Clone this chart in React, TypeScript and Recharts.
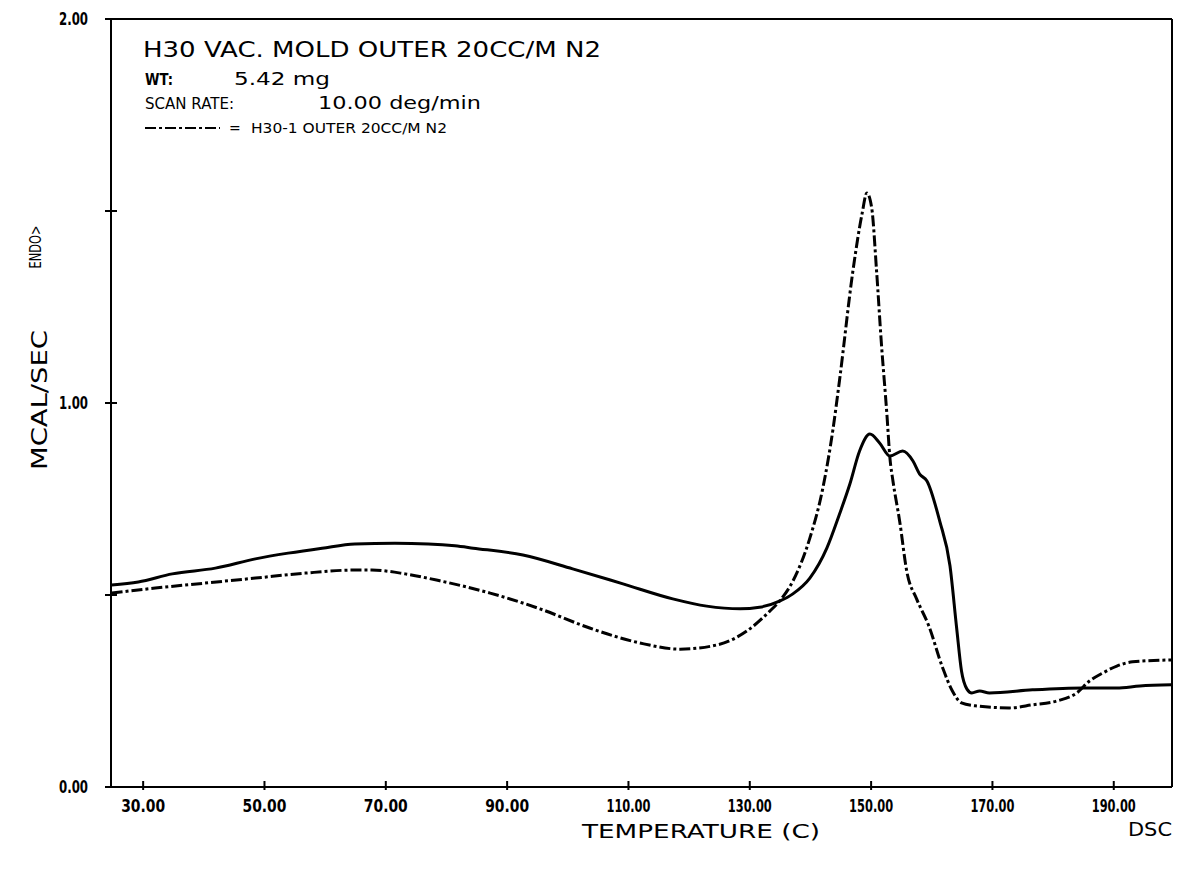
import React from 'react';
import { LineChart, Line, XAxis, YAxis, ReferenceLine } from 'recharts';

// solid trace (unlabelled run)
const solidTemp = [24.8, 29.2, 34.8, 41.9, 48.5, 53.9, 59.5, 64.9, 71.5, 77.0, 81.4, 84.4, 92.6, 100.8, 109.1, 117.3, 122.9, 128.4, 131.6, 134.9, 137.1, 139.9, 142.7, 144.8, 146.5, 148.1, 149.8, 151.4, 153.1, 155.2, 156.9, 158.0, 159.2, 161.3, 163.0, 164.1, 164.9, 165.8, 166.6, 167.9, 169.5, 176.6, 184.9, 190.5, 194.3, 199.5];
const solidMcal = [0.526, 0.534, 0.555, 0.570, 0.594, 0.609, 0.622, 0.633, 0.635, 0.633, 0.628, 0.622, 0.604, 0.568, 0.529, 0.490, 0.471, 0.464, 0.468, 0.484, 0.503, 0.544, 0.622, 0.711, 0.789, 0.875, 0.919, 0.896, 0.862, 0.875, 0.849, 0.815, 0.797, 0.693, 0.576, 0.414, 0.302, 0.255, 0.245, 0.250, 0.245, 0.253, 0.258, 0.258, 0.263, 0.266];

// dash-dot trace: H30-1 OUTER 20CC/M N2
const dashTemp = [24.8, 32.0, 40.2, 48.5, 56.7, 64.9, 67.7, 73.2, 78.9, 87.2, 95.4, 103.6, 111.9, 118.5, 124.6, 129.5, 133.3, 134.9, 137.1, 139.9, 142.0, 143.7, 144.8, 147.0, 148.5, 149.3, 150.1, 150.9, 151.7, 152.6, 153.1, 153.6, 154.7, 155.9, 157.5, 159.5, 161.8, 163.4, 164.9, 167.4, 172.8, 176.6, 180.6, 183.9, 186.0, 188.2, 190.5, 193.1, 199.5];
const dashMcal = [0.505, 0.518, 0.531, 0.544, 0.557, 0.565, 0.565, 0.555, 0.537, 0.505, 0.464, 0.414, 0.375, 0.359, 0.370, 0.406, 0.458, 0.484, 0.536, 0.648, 0.775, 0.930, 1.060, 1.344, 1.492, 1.547, 1.508, 1.344, 1.154, 0.971, 0.857, 0.797, 0.693, 0.560, 0.490, 0.420, 0.310, 0.250, 0.219, 0.211, 0.206, 0.214, 0.224, 0.245, 0.276, 0.297, 0.315, 0.326, 0.331];

const xTicks = [30, 50, 70, 90, 110, 130, 150, 170, 190];
const yTicks = [0, 0.5, 1, 1.5, 2];
const yLabelled = [0, 1, 2];

const solidData = solidTemp.map((t, i) => ({ t, v: solidMcal[i] }));
const dashData = dashTemp.map((t, i) => ({ t, v: dashMcal[i] }));

const DASH = '11 3 3 3';
const tickFont = '"DejaVu Sans Condensed", "DejaVu Sans", sans-serif';
const plotFont = '"DejaVu Sans", sans-serif';

const XTick = (props: any) => {
  const { x, y, payload } = props;
  return (
    <g>
      <line x1={x} x2={x} y1={y - 6} y2={y + 3} stroke="#000" strokeWidth={2} />
      <text x={x} y={y + 25} textAnchor="middle" fontFamily={tickFont} fontWeight="bold" fontSize={17} fill="#000" textLength={44} lengthAdjust="spacingAndGlyphs">
        {payload.value.toFixed(2)}
      </text>
    </g>
  );
};

const YTick = (props: any) => {
  const { x, y, payload } = props;
  return (
    <g>
      <line x1={x - 6} x2={x + 6} y1={y} y2={y} stroke="#000" strokeWidth={2} />
      {yLabelled.includes(payload.value) && (
        <text x={x - 23} y={y + 6} textAnchor="end" fontFamily={tickFont} fontWeight="bold" fontSize={17} fill="#000" textLength={29} lengthAdjust="spacingAndGlyphs">
          {payload.value.toFixed(2)}
        </text>
      )}
    </g>
  );
};

export default function App() {
  return (
    <div style={{ position: 'absolute', left: 0, top: 0, width: 1192, height: 872, background: '#fff' }}>
      <LineChart width={1192} height={872} margin={{ top: 19, right: 20, bottom: 0, left: 0 }}>
        <XAxis
          dataKey="t"
          type="number"
          domain={[24.7, 199.6]}
          ticks={xTicks}
          allowDataOverflow
          height={85}
          tickSize={0}
          tickMargin={0}
          tickLine={false}
          axisLine={{ stroke: '#000', strokeWidth: 2 }}
          tick={<XTick />}
        />
        <YAxis
          dataKey="v"
          type="number"
          domain={[0, 2]}
          ticks={yTicks}
          width={111}
          tickSize={0}
          tickMargin={0}
          tickLine={false}
          axisLine={{ stroke: '#000', strokeWidth: 2 }}
          tick={<YTick />}
        />
        <ReferenceLine y={2} stroke="#000" strokeWidth={2} />
        <ReferenceLine x={199.6} stroke="#000" strokeWidth={2} />
        <Line data={solidData} dataKey="v" type="monotone" stroke="#000" strokeWidth={3} dot={false} isAnimationActive={false} />
        <Line data={dashData} dataKey="v" type="monotone" stroke="#000" strokeWidth={3} strokeDasharray={DASH} dot={false} isAnimationActive={false} />
      </LineChart>
      <svg width={1192} height={872} style={{ position: 'absolute', left: 0, top: 0, pointerEvents: 'none' }}>
        <g fontFamily={plotFont} fill="#000">
          <text x={143} y={57} fontSize={21} textLength={458} lengthAdjust="spacingAndGlyphs">H30 VAC. MOLD OUTER 20CC/M N2</text>
          <text x={145} y={85} fontSize={15} fontWeight="bold" textLength={28} lengthAdjust="spacingAndGlyphs">WT:</text>
          <text x={234} y={85} fontSize={17} textLength={96} lengthAdjust="spacingAndGlyphs">5.42 mg</text>
          <text x={145} y={109} fontSize={16} textLength={89} lengthAdjust="spacingAndGlyphs">SCAN RATE:</text>
          <text x={318} y={109} fontSize={17} textLength={163} lengthAdjust="spacingAndGlyphs">10.00 deg/min</text>
          <line x1={145} x2={220} y1={128} y2={128} stroke="#000" strokeWidth={2} strokeDasharray={DASH} />
          <text x={229} y={133} fontSize={14}>=</text>
          <text x={251} y={133} fontSize={14} textLength={196} lengthAdjust="spacingAndGlyphs">H30-1 OUTER 20CC/M N2</text>
          <text x={0} y={0} fontSize={21} textAnchor="middle" textLength={140} lengthAdjust="spacingAndGlyphs" transform="translate(47 400) rotate(-90)">MCAL/SEC</text>
          <text x={0} y={0} fontSize={16} textAnchor="middle" textLength={43} lengthAdjust="spacingAndGlyphs" transform="translate(41 247) rotate(-90)">ENDO&gt;</text>
          <text x={582} y={838} fontSize={20} textLength={238} lengthAdjust="spacingAndGlyphs">TEMPERATURE (C)</text>
          <text x={1128} y={836} fontSize={20} textLength={44} lengthAdjust="spacingAndGlyphs">DSC</text>
        </g>
      </svg>
    </div>
  );
}
